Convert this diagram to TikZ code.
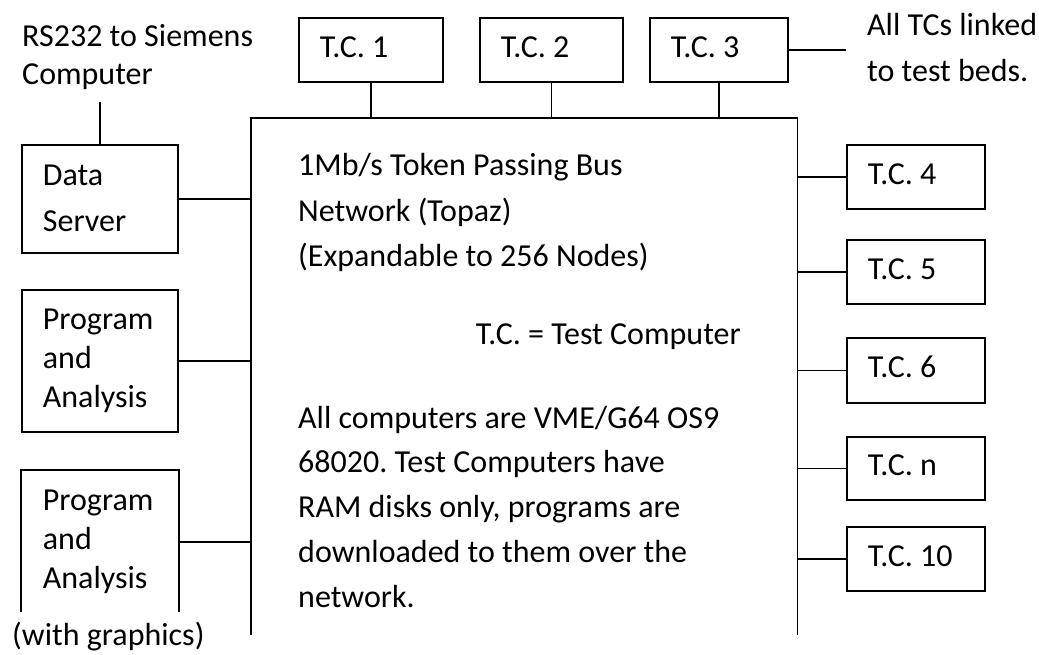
\documentclass[tikz,border=0pt]{standalone}
\usepackage{fontspec}
\setmainfont{Carlito}
% text block: #1 = line pitch, #2 = lines separated by \\
\newcommand\txtblock[2]{\fontsize{32}{#1}\selectfont\frenchspacing\begin{tabular}[t]{@{}l@{}}#2\end{tabular}}
\begin{document}
\begin{tikzpicture}[x=1pt,y=-1pt,
  wire/.style={line width=1.5pt},
  unit/.style={draw, line width=1.8pt, anchor=north west, inner xsep=21pt, inner ysep=0pt},
  freetext/.style={inner sep=0pt, anchor=base west}]
\useasboundingbox (0,0) rectangle (1039,655);

% network bus frame (open at the bottom)
\node[anchor=north west, inner sep=0pt, minimum width=546pt, minimum height=517pt] (bus) at (251,118) {};
\draw[wire] (bus.south west) -- (bus.north west) -- (bus.north east) -- (bus.south east);

% test computers along the top
\node[unit, minimum height=64pt] (tc1) at (298,17) {\makebox[102pt][l]{\txtblock{36}{T.C. 1}}};
\node[unit, minimum height=64pt] (tc2) at (479,17) {\makebox[101pt][l]{\txtblock{36}{T.C. 2}}};
\node[unit, minimum height=64pt] (tc3) at (649,17) {\makebox[96pt][l]{\txtblock{36}{T.C. 3}}};

% test computers on the right
\node[unit, minimum height=64pt] (tc4) at (846,144) {\makebox[96pt][l]{\txtblock{36}{T.C. 4}}};
\node[unit, minimum height=64pt] (tc5) at (846,239) {\makebox[96pt][l]{\txtblock{36}{T.C. 5}}};
\node[unit, minimum height=65pt] (tc6) at (846,337) {\makebox[96pt][l]{\txtblock{36}{T.C. 6}}};
\node[unit, minimum height=63pt] (tcn) at (846,436) {\makebox[96pt][l]{\txtblock{36}{T.C. n}}};
\node[unit, minimum height=64pt] (tc10) at (846,526) {\makebox[96pt][l]{\txtblock{36}{T.C. 10}}};

% servers and workstations on the left
\node[unit, minimum height=108pt] (ds) at (21,144) {\makebox[114pt][l]{\txtblock{46}{Data\\Server}}};
\node[unit, minimum height=142pt] (pa1) at (21,289) {\makebox[114pt][l]{\txtblock{39}{Program\\and\\Analysis}}};
\node[unit, draw=none, minimum height=142pt] (pa2) at (21,470) {\makebox[114pt][l]{\txtblock{39}{Program\\and\\Analysis}}};
\draw[line width=1.8pt] ([yshift=2pt]pa2.south west) -- (pa2.north west) -- (pa2.north east) -- ([yshift=2pt]pa2.south east);

% free labels
\node[freetext] (rs) at (22,47) {\txtblock{38}{RS232 to Siemens\\Computer}};
\coordinate (rsend) at (98,102);
\node[freetext] (beds) at (867,36) {\txtblock{46}{All TCs linked\\to test beds.}};
\coordinate (bedsend) at (846,49);
\node[freetext] (gfx) at (12,645) {\txtblock{36}{(with graphics)}};

% text inside the bus frame
\node[freetext] (bustxt) at (298,176) {\txtblock{45.5}{1Mb/s Token Passing Bus\\Network (Topaz)\\(Expandable to 256 Nodes)}};
\node[freetext, anchor=base east] (key) at (741,344) {\txtblock{36}{T.C. = Test Computer}};
\node[freetext] (note) at (298,428) {\txtblock{44.75}{All computers are VME/G64 OS9\\68020. Test Computers have\\RAM disks only, programs are\\downloaded to them over the\\network.}};

% connections
\draw[wire] (ds.north) -- (ds.north |- rsend);
\draw[wire] (tc3.east) -- (tc3.east -| bedsend);
\foreach \t in {tc1,tc2,tc3}
  \draw[wire] (\t.south) -- (\t.south |- bus.north);
\foreach \t in {tc4,tc5,tc6,tcn,tc10}
  \draw[wire] (\t.west) -- (\t.west -| bus.east);
\foreach \t in {ds,pa1,pa2}
  \draw[wire] (\t.east) -- (\t.east -| bus.west);
\end{tikzpicture}
\end{document}
